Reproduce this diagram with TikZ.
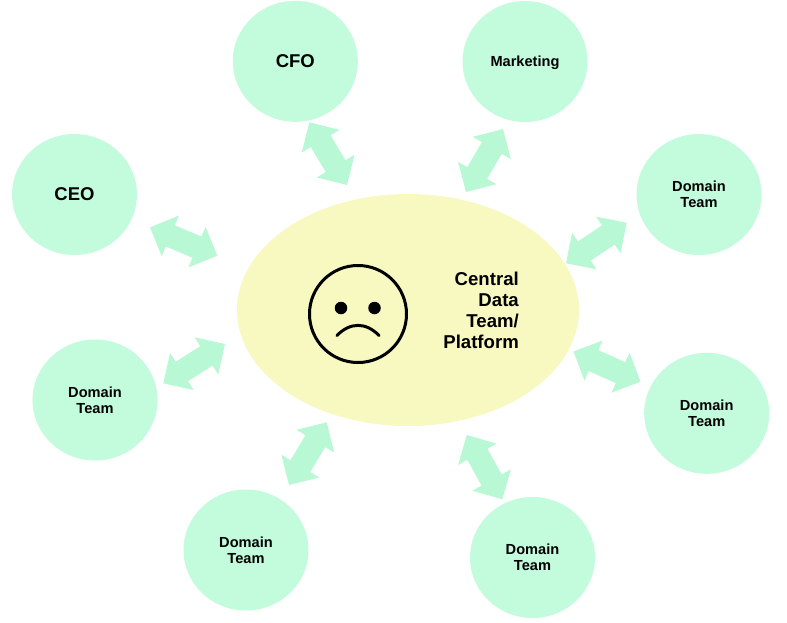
\documentclass[tikz,border=0pt]{standalone}
\usepackage{fontspec}
\setmainfont{Liberation Sans}
\usetikzlibrary{shapes.geometric}
\definecolor{circfill}{HTML}{C3FCDC}
\definecolor{arrfill}{HTML}{B8F8D4}
\definecolor{ellfill}{HTML}{F8F9C0}
\tikzset{
  team/.style={ellipse,fill=circfill,minimum width=125pt,minimum height=121pt,inner sep=0pt,align=center,font=\bfseries\fontsize{14.6}{16}\selectfont},
  bigteam/.style={team,font=\bfseries\fontsize{18.5}{21}\selectfont},
  exchange/.style={fill=arrfill},
  central/.style={ellipse,fill=ellfill,inner sep=0pt},
  facepart/.style={line width=3pt,draw=black,line cap=round}
}
\newcommand{\exch}[5]{%
  \pgfmathsetmacro{\exang}{atan2(-(#5-#3),#4-#2)}%
  \pgfmathsetmacro{\exh}{veclen(#4-#2,#5-#3)/2}%
  \pgfmathsetmacro{\exb}{\exh-22}%
  \begin{scope}[shift={({(#2+#4)/2},{(#3+#5)/2})},rotate=\exang]
    \coordinate (#1) at (0,0);
    \fill[exchange] (-\exh,0) -- (-\exb,22) -- (-\exb,11.5) -- (\exb,11.5) -- (\exb,22) -- (\exh,0)
      -- (\exb,-22) -- (\exb,-11.5) -- (-\exb,-11.5) -- (-\exb,-22) -- cycle;
  \end{scope}}
\begin{document}
\begin{tikzpicture}[x=1pt,y=-1pt]
\useasboundingbox[fill=white] (0,0) rectangle (787,622);
\node[bigteam] (cfo) at (295.3,61.3) {CFO};
\node[team,text depth=0pt] (mkt) at (525,61.5) {Marketing};
\node[bigteam] (ceo) at (74.5,194.5) {CEO};
\node[team] (d1) at (699,194.5) {Domain\\Team};
\node[team] (d2) at (706.7,413.3) {Domain\\Team};
\node[team] (d3) at (532.5,557.5) {Domain\\Team};
\node[team] (d4) at (246,550) {Domain\\Team};
\node[team] (d5) at (95,400) {Domain\\Team};
\node[central,minimum width=342pt,minimum height=232pt] (core) at (408,310) {};
\node[anchor=east,align=right,inner sep=0pt,font=\bfseries\fontsize{18.6}{21.2}\selectfont] (lbl) at (519,310.5) {Central\\Data\\Team/\\Platform};
\node[circle,draw=black,line width=3pt,minimum size=97pt,inner sep=0pt] (face) at (358,314) {};
\node[circle,fill=black,minimum size=12.5pt,inner sep=0pt] (eyeL) at (341,308) {};
\node[circle,fill=black,minimum size=12.5pt,inner sep=0pt] (eyeR) at (374.5,308) {};
\coordinate (mouthL) at (337,335.5);
\coordinate (mouthR) at (379,335.5);
\draw[facepart] (mouthL) .. controls (350,322) and (366,322) .. (mouthR);
\exch{a1}{150}{227.3}{217.3}{255.7}
\exch{a2}{309.3}{122.3}{347}{185}
\exch{a3}{503}{129}{466}{192}
\exch{a4}{626.7}{222.7}{566}{263.3}
\exch{a5}{573.5}{351.5}{640.5}{381.7}
\exch{a6}{466.7}{435}{502.3}{499.3}
\exch{a7}{326.7}{422.3}{289}{485}
\exch{a8}{225}{344}{163.3}{383.3}
\end{tikzpicture}
\end{document}
